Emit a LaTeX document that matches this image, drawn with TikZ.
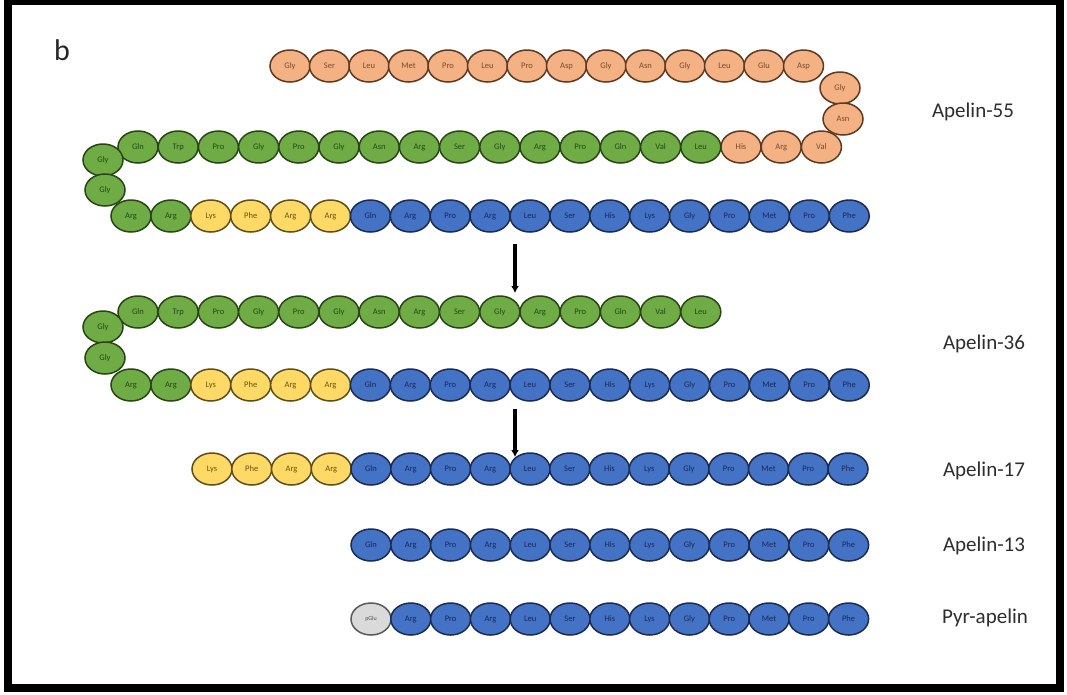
\documentclass[tikz,border=0pt]{standalone}
\usepackage{fontspec}
\setmainfont{Carlito}
\usetikzlibrary{arrows.meta,shapes.geometric}
\definecolor{orf}{HTML}{F4B183}\definecolor{ord}{HTML}{5E3A22}\definecolor{ort}{HTML}{7A4A2A}
\definecolor{grf}{HTML}{6FAC46}\definecolor{grd}{HTML}{2A4517}\definecolor{grt}{HTML}{1F4A10}
\definecolor{yef}{HTML}{FFD966}\definecolor{yed}{HTML}{5E4E18}\definecolor{yet}{HTML}{6A5010}
\definecolor{blf}{HTML}{4472C4}\definecolor{bld}{HTML}{1C2B52}\definecolor{blt}{HTML}{15295E}
\definecolor{gyf}{HTML}{DADADA}\definecolor{gyd}{HTML}{5A5A5A}
\definecolor{labc}{HTML}{2E2E2E}
\tikzset{
  bead/.style={ellipse, minimum width=40pt, minimum height=32pt, inner sep=0pt,
    line width=1.5pt, font=\fontsize{8.5}{9}\selectfont},
  orb/.style={bead, fill=orf, draw=ord, text=ort},
  grb/.style={bead, fill=grf, draw=grd, text=grt},
  yeb/.style={bead, fill=yef, draw=yed, text=yet},
  blb/.style={bead, fill=blf, draw=bld, text=blt},
  gyb/.style={bead, fill=gyf, draw=gyd, text=black!70},
  lab/.style={font=\fontsize{21}{24}\selectfont, text=labc},
  cut/.style={line width=3.6pt, -{Latex[length=7pt,width=8pt]}}
}
\begin{document}
\begin{tikzpicture}[x=1pt,y=-1pt]
\useasboundingbox (0,0) rectangle (1067,694);
\fill[white] (0,0) rectangle (1067,694);
\draw[line width=8pt] (8,1) rectangle (1060,688);
\node[font=\fontsize{30}{32}\selectfont, text=black!85] (b) at (62,50) {b};

% Apelin-55
\foreach \n [count=\i from 0] in {Gly,Ser,Leu,Met,Pro,Leu,Pro,Asp,Gly,Asn,Gly,Leu,Glu,Asp}
  \node[orb] (a1-\i) at ({290+39.5*\i},66) {\n};
\node[orb] (a1-t1) at (840,88) {Gly};
\node[orb] (a1-t2) at (843,119) {Asn};
\foreach \n [count=\i from 15] in {His,Arg,Val}
  \node[orb] (a2-\i) at ({138+40.2*\i},147) {\n};
\foreach \n [count=\i from 0] in {Gln,Trp,Pro,Gly,Pro,Gly,Asn,Arg,Ser,Gly,Arg,Pro,Gln,Val,Leu}
  \node[grb] (a2-\i) at ({138+40.2*\i},147) {\n};
\node[grb] (a2-t1) at (103,160) {Gly};
\node[grb] (a2-t2) at (105,190) {Gly};
\foreach \n [count=\i from 0] in {Arg,Arg}
  \node[grb] (a3-\i) at ({131+39.9*\i},216) {\n};
\foreach \n [count=\i from 2] in {Lys,Phe,Arg,Arg}
  \node[yeb] (a3-\i) at ({131+39.9*\i},216) {\n};
\foreach \n [count=\i from 6] in {Gln,Arg,Pro,Arg,Leu,Ser,His,Lys,Gly,Pro,Met,Pro,Phe}
  \node[blb] (a3-\i) at ({131+39.9*\i},216) {\n};

% Apelin-36
\foreach \n [count=\i from 0] in {Gln,Trp,Pro,Gly,Pro,Gly,Asn,Arg,Ser,Gly,Arg,Pro,Gln,Val,Leu}
  \node[grb] (b1-\i) at ({138+40.2*\i},312) {\n};
\node[grb] (b1-t1) at (103,327) {Gly};
\node[grb] (b1-t2) at (105,358) {Gly};
\foreach \n [count=\i from 0] in {Arg,Arg}
  \node[grb] (b2-\i) at ({131+39.9*\i},385) {\n};
\foreach \n [count=\i from 2] in {Lys,Phe,Arg,Arg}
  \node[yeb] (b2-\i) at ({131+39.9*\i},385) {\n};
\foreach \n [count=\i from 6] in {Gln,Arg,Pro,Arg,Leu,Ser,His,Lys,Gly,Pro,Met,Pro,Phe}
  \node[blb] (b2-\i) at ({131+39.9*\i},385) {\n};

% Apelin-17
\foreach \n [count=\i from 0] in {Lys,Phe,Arg,Arg}
  \node[yeb] (c-\i) at ({212+39.75*\i},469) {\n};
\foreach \n [count=\i from 4] in {Gln,Arg,Pro,Arg,Leu,Ser,His,Lys,Gly,Pro,Met,Pro,Phe}
  \node[blb] (c-\i) at ({212+39.75*\i},469) {\n};

% Apelin-13
\foreach \n [count=\i from 0] in {Gln,Arg,Pro,Arg,Leu,Ser,His,Lys,Gly,Pro,Met,Pro,Phe}
  \node[blb] (d-\i) at ({371+39.8*\i},545) {\n};

% Pyr-apelin
\node[gyb, font=\fontsize{6}{7}\selectfont] (e-0) at (371,619) {pGlu};
\foreach \n [count=\i from 1] in {Arg,Pro,Arg,Leu,Ser,His,Lys,Gly,Pro,Met,Pro,Phe}
  \node[blb] (e-\i) at ({371+39.8*\i},619) {\n};

% arrows
\coordinate (ar1s) at (515,244);
\coordinate (ar1e) at (515,293);
\coordinate (ar2s) at (515,409);
\coordinate (ar2e) at (515,457);
\draw[cut] (ar1s) -- (ar1e);
\draw[cut] (ar2s) -- (ar2e);

% labels
\node[lab] (l55) at (973,112) {Apelin-55};
\node[lab] (l36) at (984,344) {Apelin-36};
\node[lab] (l17) at (984,471) {Apelin-17};
\node[lab] (l13) at (984,546) {Apelin-13};
\node[lab] (lpyr) at (985,618) {Pyr-apelin};
\end{tikzpicture}
\end{document}
